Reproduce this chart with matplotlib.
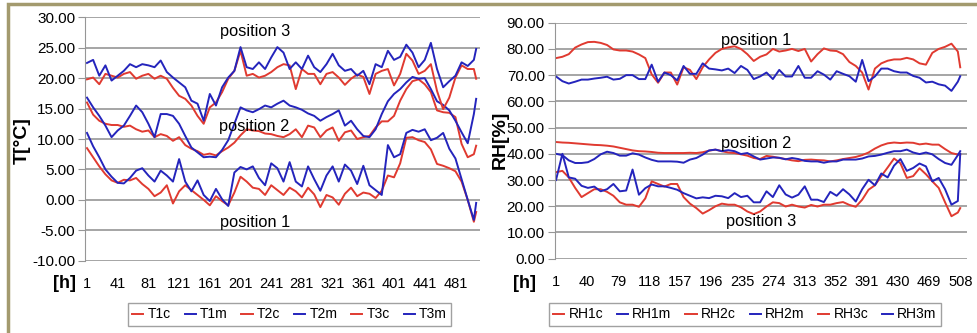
import matplotlib.pyplot as plt
from matplotlib.patches import Rectangle

# hourly record, sampled every 8 h
hours = list(range(1, 506, 8)) + [508]

# temperature [°C]
t1c = [8.5, 7.0, 5.5, 4.2, 3.2, 2.8, 3.3, 3.2, 3.6, 2.6, 1.8, 0.6, 1.2, 2.4, -0.6, 1.4,
       2.4, 1.6, 0.8, 0.0, -0.9, 0.6, -0.2, -0.9, 1.2, 3.8, 3.0, 2.0, 1.8, 0.8, 2.4, 1.6,
       0.8, 2.0, 1.4, 0.4, 2.0, 0.9, -1.2, 0.8, 0.4, -0.8, 1.0, 2.0, 0.6, 1.2, 1.0, 0.3,
       1.5, 4.0, 3.7, 6.0, 10.2, 10.3, 9.8, 9.5, 8.3, 5.9, 5.6, 5.2, 4.7, 3.0, 0.0, -3.6, -2.0]
t1m = [11.0, 8.8, 7.0, 5.0, 3.8, 2.8, 2.7, 3.6, 4.8, 5.2, 4.0, 3.0, 4.8, 4.0, 3.0, 6.7,
       3.0, 1.4, 3.2, 0.8, -0.2, 1.8, 0.1, -1.0, 4.5, 5.4, 5.0, 5.5, 3.6, 2.4, 6.0, 5.2,
       3.0, 6.2, 3.0, 2.2, 5.5, 3.4, 1.5, 4.0, 5.5, 3.0, 5.8, 4.8, 2.6, 5.6, 2.4, 1.6,
       0.8, 9.0, 7.0, 7.5, 11.0, 11.5, 11.2, 11.6, 9.8, 10.2, 11.0, 8.4, 6.8, 3.4, 0.0, -3.3, -0.5]
t2c = [16.0, 14.0, 13.0, 12.5, 12.3, 12.3, 12.0, 12.2, 11.6, 11.2, 11.4, 10.3, 10.8, 10.5, 9.7, 10.3,
       9.0, 8.4, 8.0, 7.4, 7.6, 7.3, 8.0, 8.6, 9.4, 10.6, 11.6, 11.4, 11.3, 10.9, 10.8, 10.5,
       10.3, 10.8, 11.6, 10.3, 12.2, 11.9, 10.3, 11.4, 11.9, 9.7, 11.1, 11.4, 10.0, 10.3, 10.5, 11.9,
       12.9, 12.9, 13.8, 16.3, 18.2, 19.5, 19.8, 19.0, 17.7, 14.7, 14.4, 14.3, 13.6, 9.2, 7.0, 7.5, 8.9]
t2m = [16.8, 15.2, 13.8, 12.2, 10.3, 11.4, 12.2, 13.8, 15.5, 14.4, 12.5, 10.3, 14.1, 14.1, 13.8, 12.5,
       10.5, 8.6, 7.8, 7.0, 7.1, 7.0, 8.2, 9.8, 12.5, 15.2, 14.7, 14.4, 14.9, 15.5, 15.2, 15.8,
       16.3, 15.5, 15.2, 14.8, 14.2, 13.8, 13.0, 13.6, 14.1, 14.7, 12.2, 13.0, 11.6, 10.5, 10.3, 11.6,
       14.1, 16.2, 17.4, 18.2, 19.3, 20.2, 19.9, 20.0, 18.2, 16.2, 15.6, 14.7, 13.0, 11.1, 9.3, 14.1, 16.6]
t3c = [19.8, 20.1, 19.0, 20.7, 20.4, 20.1, 20.7, 21.0, 19.9, 20.4, 20.7, 19.9, 20.4, 19.9, 18.4, 17.1,
       16.6, 15.5, 13.8, 12.5, 15.2, 16.0, 17.7, 19.9, 21.2, 24.5, 20.4, 20.7, 20.1, 20.4, 21.0, 21.8,
       22.3, 22.1, 18.2, 21.5, 20.7, 20.7, 19.0, 20.7, 21.0, 20.1, 18.9, 19.9, 20.6, 20.2, 17.4, 20.7,
       21.2, 21.5, 18.8, 20.7, 24.0, 22.9, 20.7, 21.2, 22.3, 17.9, 14.9, 16.8, 20.1, 22.1, 21.5, 21.5, 19.9]
t3m = [22.5, 23.0, 20.4, 22.1, 19.6, 20.4, 21.2, 22.3, 21.8, 22.3, 22.1, 21.8, 22.9, 21.0, 20.1, 19.3,
       18.5, 16.3, 15.8, 13.0, 17.4, 15.5, 18.5, 20.1, 21.2, 25.1, 21.8, 21.5, 22.6, 21.5, 23.4, 25.1,
       24.2, 21.5, 22.6, 21.5, 23.7, 21.8, 21.0, 22.3, 24.0, 22.1, 21.2, 21.5, 20.4, 21.2, 19.0, 22.3,
       21.8, 24.5, 23.0, 23.5, 25.5, 24.2, 21.8, 23.0, 25.8, 21.5, 18.5, 19.5, 20.4, 22.6, 22.0, 23.0, 24.8]

# relative humidity [%]
rh1c = [76.5, 77.0, 78.0, 80.5, 81.7, 82.6, 82.7, 82.3, 81.5, 79.8, 79.4, 79.4, 79.0, 77.9, 76.5, 70.3,
        67.1, 71.0, 71.0, 66.4, 73.0, 72.0, 68.5, 73.0, 76.0, 78.5, 80.0, 80.6, 81.0, 80.0, 78.0, 75.4,
        77.0, 77.9, 80.0, 79.0, 79.4, 80.0, 79.2, 80.0, 75.2, 78.0, 80.2, 79.4, 79.2, 78.0, 75.0, 73.5,
        71.0, 64.5, 72.5, 74.5, 75.5, 76.0, 76.0, 76.6, 76.0, 74.5, 74.0, 78.5, 80.0, 80.8, 82.0, 79.0, 73.0]
rh1m = [69.5, 67.7, 66.8, 67.5, 68.3, 68.3, 68.7, 69.0, 69.4, 68.3, 68.6, 70.0, 70.0, 68.5, 68.5, 74.0,
        67.5, 71.0, 70.0, 68.0, 73.5, 70.5, 70.5, 74.5, 72.5, 72.2, 71.8, 72.5, 70.8, 73.5, 72.0, 68.5,
        69.5, 71.0, 68.5, 72.0, 69.5, 69.5, 73.5, 69.0, 69.0, 71.5, 70.2, 68.3, 71.5, 70.5, 69.6, 67.5,
        75.8, 67.7, 69.5, 72.5, 72.5, 71.5, 71.0, 71.0, 69.7, 69.0, 67.2, 67.5, 66.5, 66.0, 64.0, 67.5, 69.6]
rh2c = [44.5, 44.3, 44.2, 44.0, 43.8, 43.6, 43.4, 43.3, 43.1, 42.8, 42.3, 41.8, 41.3, 41.0, 40.9, 40.7,
        40.4, 40.3, 40.3, 40.3, 40.3, 40.4, 40.3, 40.6, 41.2, 41.6, 41.0, 40.5, 40.3, 39.8, 39.3, 38.4,
        38.0, 39.2, 38.9, 38.4, 38.0, 37.5, 37.2, 37.7, 37.8, 37.6, 37.5, 37.1, 37.5, 38.0, 38.4, 38.8,
        39.5, 40.5, 42.0, 43.2, 44.0, 44.3, 44.1, 44.3, 44.2, 43.6, 43.9, 43.5, 43.5, 41.8, 40.3, 39.7, 39.7]
rh2m = [40.0, 39.5, 37.5, 36.5, 36.5, 36.8, 38.0, 39.8, 40.8, 40.3, 39.3, 39.3, 40.2, 39.7, 38.6, 37.7,
        37.1, 37.1, 37.1, 37.0, 36.6, 37.8, 38.4, 39.7, 41.3, 41.6, 41.0, 41.4, 41.0, 39.9, 40.3, 39.0,
        37.8, 38.2, 38.6, 38.5, 37.9, 38.4, 38.0, 37.3, 37.1, 37.1, 36.6, 37.1, 37.1, 37.8, 37.8, 37.8,
        38.2, 39.0, 39.2, 39.7, 40.4, 41.0, 41.0, 41.6, 40.5, 39.9, 40.5, 39.8, 38.0, 36.5, 35.8, 39.5, 41.0]
rh3c = [33.0, 33.5, 31.0, 27.0, 23.5, 25.0, 26.5, 26.5, 25.5, 24.0, 21.5, 20.6, 20.6, 19.8, 23.0, 29.5,
        28.5, 27.5, 28.5, 28.5, 23.5, 21.0, 19.3, 17.2, 18.5, 20.0, 21.0, 20.6, 20.6, 19.6, 18.0, 17.0,
        18.0, 19.9, 21.5, 21.2, 19.9, 20.6, 19.9, 19.5, 20.5, 19.9, 20.6, 20.6, 21.2, 21.6, 20.5, 19.8,
        22.5, 26.3, 28.0, 31.5, 34.8, 38.2, 36.4, 30.8, 31.5, 34.5, 32.2, 29.5, 27.0, 21.5, 16.2, 17.6, 19.3]
rh3m = [30.0, 40.0, 31.0, 30.5, 27.8, 27.0, 27.5, 25.7, 26.5, 28.5, 25.7, 26.0, 34.0, 24.4, 26.9, 28.3,
        27.6, 27.6, 27.0, 26.3, 25.0, 24.0, 23.0, 23.4, 23.1, 24.0, 23.8, 23.1, 25.0, 23.5, 24.0, 21.5,
        21.5, 25.7, 23.5, 28.0, 24.5, 23.3, 24.4, 27.6, 22.5, 22.5, 21.6, 25.5, 24.0, 26.5, 24.5, 21.8,
        26.5, 30.1, 28.0, 32.5, 31.0, 35.5, 38.0, 33.5, 34.6, 36.3, 35.2, 29.5, 30.8, 26.5, 20.6, 22.0, 40.0]

t_ticks = [1, 41, 81, 121, 161, 201, 241, 281, 321, 361, 401, 441, 481]
rh_ticks = [1, 40, 79, 118, 157, 196, 235, 274, 313, 352, 391, 430, 469, 508]

RED = '#e03a30'
BLUE = '#2424bc'
GRID = '#969696'

plt.rcParams['font.family'] = ['Liberation Sans', 'DejaVu Sans']

W, H = 977, 333
fig = plt.figure(figsize=(W / 100, H / 100), dpi=100)


def box(x0, y0, x1, y1):
    # pixel box (top-left origin) -> figure fraction rect
    return [x0 / W, 1 - y1 / H, (x1 - x0) / W, (y1 - y0) / H]


def style(ax, yticks, xticks):
    ax.set_yticks(yticks)
    ax.set_yticklabels(['%.2f' % v for v in yticks], fontsize=11)
    ax.set_xticks(xticks)
    ax.set_xticklabels([str(v) for v in xticks], fontsize=10.5)
    ax.grid(axis='y', color=GRID, linewidth=1.2)
    ax.set_axisbelow(True)
    for s in ['top', 'right', 'bottom']:
        ax.spines[s].set_visible(False)
    ax.spines['left'].set_color(GRID)
    ax.tick_params(axis='y', length=5, color=GRID, pad=2)
    ax.tick_params(axis='x', length=0, pad=12)


def add_legend(ax, cx):
    ax.legend(loc='center', bbox_to_anchor=(cx / W, 1 - 314.5 / H), bbox_transform=fig.transFigure,
              ncol=6, fontsize=10, handlelength=0.8, handletextpad=0.3,
              columnspacing=1.0, frameon=True, fancybox=False, edgecolor='#8a8a8a',
              borderpad=0.3, borderaxespad=0)


# temperature panel
ax1 = fig.add_axes(box(85, 17.3, 480, 260.7))
names = ['T1c', 'T1m', 'T2c', 'T2m', 'T3c', 'T3m']
for name, vals, col in zip(names, [t1c, t1m, t2c, t2m, t3c, t3m], [RED, BLUE] * 3):
    ax1.plot(hours, vals, color=col, linewidth=1.4, label=name)
ax1.set_ylim(-10, 30)
ax1.set_xlim(-1.6, 513)
style(ax1, list(range(-10, 31, 5)), t_ticks)
ax1.text(220, 27.6, 'position 3', fontsize=11.8, ha='center', va='center')
ax1.text(219, 12.0, 'position 2', fontsize=11.8, ha='center', va='center')
ax1.text(220, -3.8, 'position 1', fontsize=11.8, ha='center', va='center')
add_legend(ax1, 289.5)

# humidity panel
ax2 = fig.add_axes(box(554.5, 22.7, 967, 258.7))
names = ['RH1c', 'RH1m', 'RH2c', 'RH2m', 'RH3c', 'RH3m']
for name, vals, col in zip(names, [rh1c, rh1m, rh2c, rh2m, rh3c, rh3m], [RED, BLUE] * 3):
    ax2.plot(hours, vals, color=col, linewidth=1.4, label=name)
ax2.set_ylim(0, 90)
ax2.set_xlim(-0.9, 516.5)
style(ax2, list(range(0, 91, 10)), rh_ticks)
ax2.text(252, 83.1, 'position 1', fontsize=11.8, ha='center', va='center')
ax2.text(252, 44.1, 'position 2', fontsize=11.8, ha='center', va='center')
ax2.text(258, 14.3, 'position 3', fontsize=11.8, ha='center', va='center')
add_legend(ax2, 745)

# axis titles
fig.text(22 / W, 1 - 141 / H, 'T[°C]', rotation=90, fontsize=14, fontweight='bold', ha='center', va='center')
fig.text(500 / W, 1 - 140 / H, 'RH[%]', rotation=90, fontsize=14, fontweight='bold', ha='center', va='center')
fig.text(65 / W, 1 - 284 / H, '[h]', fontsize=13, fontweight='bold', ha='center', va='center')
fig.text(524 / W, 1 - 284 / H, '[h]', fontsize=13, fontweight='bold', ha='center', va='center')

# outer frame
fig.patches.append(Rectangle((8 / W, -0.1), 1.1, 1 - 4 / H + 0.1, transform=fig.transFigure,
                             fill=False, edgecolor='#a39a6e', linewidth=2.5))

fig.savefig('out.png', dpi=100)
